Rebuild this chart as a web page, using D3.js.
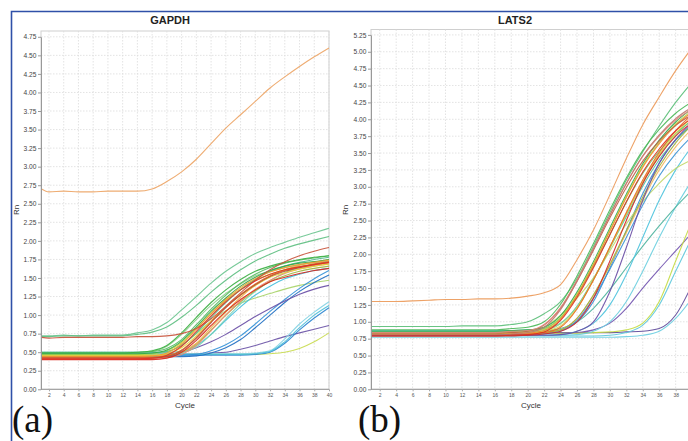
<!DOCTYPE html>
<html><head><meta charset="utf-8">
<script src="https://cdn.jsdelivr.net/npm/d3@7"></script>
<style>
html,body{margin:0;padding:0;background:#fff;}
svg{display:block;}
</style></head>
<body><svg id="c" width="688" height="441"></svg>
<script>
// ---------- data ----------
const cycles = [1,2,4,6,8,10,12,14,16,18,20,22,24,26,28,30,32,34,36,38,40];
const xTicks = [2,4,6,8,10,12,14,16,18,20,22,24,26,28,30,32,34,36,38,40];
const gapdhYTicks = [0,0.25,0.5,0.75,1,1.25,1.5,1.75,2,2.25,2.5,2.75,3,3.25,3.5,3.75,4,4.25,4.5,4.75];
const latsYTicks = [0,0.25,0.5,0.75,1,1.25,1.5,1.75,2,2.25,2.5,2.75,3,3.25,3.5,3.75,4,4.25,4.5,4.75,5,5.25];
const titles = ["GAPDH","LATS2"];
const panelLabels = ["(a)","(b)"];

// GAPDH curves (Rn per cycle)
const gOrange = [2.70,2.66,2.67,2.66,2.66,2.67,2.67,2.67,2.70,2.80,2.93,3.10,3.31,3.52,3.70,3.88,4.06,4.21,4.35,4.48,4.60];
const gGreenA = [0.72,0.72,0.73,0.72,0.73,0.73,0.73,0.76,0.80,0.90,1.07,1.25,1.43,1.59,1.72,1.83,1.91,1.98,2.05,2.11,2.17];
const gGreenB = [0.71,0.71,0.72,0.72,0.72,0.72,0.72,0.74,0.77,0.84,0.97,1.13,1.31,1.47,1.61,1.73,1.82,1.90,1.96,2.01,2.06];
const gRed70  = [0.70,0.69,0.70,0.70,0.70,0.70,0.70,0.71,0.71,0.72,0.75,0.82,0.95,1.12,1.30,1.47,1.61,1.72,1.80,1.86,1.91];
const g01 = [0.49,0.49,0.49,0.49,0.49,0.49,0.49,0.50,0.52,0.59,0.76,0.97,1.17,1.34,1.48,1.59,1.66,1.71,1.75,1.78,1.80];
const g02 = [0.50,0.50,0.50,0.50,0.50,0.50,0.50,0.50,0.51,0.55,0.67,0.87,1.08,1.27,1.43,1.55,1.64,1.70,1.74,1.77,1.80];
const g03 = [0.47,0.47,0.47,0.47,0.47,0.47,0.47,0.47,0.48,0.52,0.63,0.82,1.02,1.20,1.35,1.47,1.55,1.61,1.65,1.68,1.71];
const g04 = [0.46,0.46,0.46,0.46,0.46,0.46,0.46,0.46,0.46,0.48,0.56,0.72,0.92,1.11,1.27,1.40,1.51,1.57,1.62,1.66,1.69];
const g05 = [0.44,0.44,0.44,0.44,0.44,0.44,0.44,0.44,0.45,0.49,0.61,0.81,1.02,1.21,1.37,1.49,1.58,1.64,1.68,1.71,1.74];
const g06 = [0.43,0.43,0.43,0.43,0.43,0.43,0.43,0.43,0.43,0.45,0.53,0.70,0.91,1.11,1.28,1.42,1.53,1.60,1.65,1.69,1.72];
const g07 = [0.41,0.41,0.41,0.41,0.41,0.41,0.41,0.41,0.42,0.46,0.58,0.78,0.99,1.18,1.34,1.46,1.55,1.61,1.65,1.68,1.71];
const g08 = [0.40,0.40,0.40,0.40,0.40,0.40,0.40,0.40,0.40,0.42,0.50,0.66,0.86,1.05,1.21,1.34,1.45,1.51,1.56,1.60,1.63];
const g09 = [0.42,0.42,0.42,0.42,0.42,0.42,0.42,0.42,0.42,0.44,0.52,0.69,0.90,1.10,1.27,1.41,1.52,1.59,1.64,1.68,1.71];
const g10 = [0.45,0.45,0.45,0.45,0.45,0.45,0.45,0.45,0.45,0.46,0.50,0.61,0.80,1.00,1.18,1.33,1.45,1.53,1.59,1.63,1.66];
const g11 = [0.48,0.48,0.48,0.48,0.48,0.48,0.48,0.49,0.51,0.58,0.74,0.94,1.13,1.29,1.42,1.53,1.59,1.64,1.68,1.71,1.72];
const g12 = [0.42,0.42,0.42,0.42,0.42,0.42,0.42,0.42,0.42,0.43,0.47,0.59,0.79,1.00,1.19,1.35,1.47,1.56,1.62,1.66,1.69];
const g13 = [0.49,0.49,0.49,0.49,0.49,0.49,0.49,0.49,0.49,0.51,0.59,0.76,0.97,1.17,1.34,1.48,1.59,1.66,1.71,1.75,1.78];
const g14 = [0.45,0.45,0.45,0.45,0.45,0.45,0.45,0.45,0.45,0.46,0.50,0.62,0.83,1.04,1.24,1.40,1.52,1.61,1.67,1.71,1.75];
const g15 = [0.48,0.48,0.48,0.48,0.48,0.48,0.48,0.48,0.49,0.53,0.65,0.84,1.05,1.23,1.39,1.51,1.60,1.66,1.70,1.72,1.75];
const g16 = [0.47,0.47,0.47,0.47,0.47,0.47,0.47,0.47,0.47,0.47,0.49,0.57,0.74,0.95,1.15,1.32,1.46,1.57,1.64,1.69,1.73];
const g17 = [0.50,0.50,0.50,0.50,0.50,0.50,0.50,0.50,0.50,0.50,0.51,0.59,0.74,0.93,1.11,1.27,1.39,1.49,1.55,1.60,1.63];
const g18 = [0.45,0.45,0.45,0.45,0.45,0.45,0.45,0.45,0.45,0.45,0.46,0.47,0.52,0.60,0.72,0.88,1.05,1.21,1.36,1.49,1.60];
const g19 = [0.44,0.44,0.44,0.44,0.44,0.44,0.44,0.44,0.44,0.44,0.44,0.45,0.49,0.56,0.67,0.83,1.00,1.17,1.32,1.44,1.54];
const g20 = [0.46,0.46,0.46,0.46,0.46,0.46,0.46,0.46,0.46,0.47,0.50,0.56,0.64,0.74,0.86,0.98,1.09,1.19,1.28,1.35,1.40];
const g21 = [0.47,0.47,0.47,0.47,0.47,0.47,0.47,0.47,0.48,0.50,0.60,0.75,0.92,1.06,1.16,1.23,1.29,1.35,1.40,1.44,1.47];
const g22 = [0.48,0.48,0.48,0.48,0.48,0.48,0.48,0.48,0.48,0.48,0.48,0.48,0.48,0.48,0.48,0.49,0.52,0.68,0.88,1.04,1.18];
const g23 = [0.46,0.46,0.46,0.46,0.46,0.46,0.46,0.46,0.46,0.46,0.46,0.46,0.46,0.46,0.46,0.47,0.50,0.62,0.80,0.96,1.10];
const g24 = [0.47,0.47,0.47,0.47,0.47,0.47,0.47,0.47,0.47,0.47,0.47,0.47,0.47,0.47,0.47,0.48,0.51,0.64,0.83,1.00,1.13];
const g25 = [0.48,0.48,0.48,0.48,0.48,0.48,0.48,0.48,0.48,0.48,0.48,0.48,0.49,0.50,0.54,0.59,0.65,0.71,0.76,0.81,0.86];
const g26 = [0.47,0.47,0.47,0.47,0.47,0.47,0.47,0.47,0.47,0.47,0.47,0.47,0.47,0.47,0.47,0.47,0.48,0.50,0.55,0.64,0.76];
const gapdhCurves = [gOrange,gGreenA,gGreenB,g21,g25,g26,g22,g23,g24,g18,g19,g20,g17,g16,g10,g12,g14,g04,g03,g11,g13,g15,g02,g01,g05,g06,g09,gRed70,g08,g07];
const gapdhColors = ["#eda566","#6cc690","#5fbf82","#a8d46a","#6a52a6","#c9db50","#86d3e3","#2d86d0","#4dbfd8","#3592d8","#1f6fc2","#6a4fa6","#45bfdc","#78d1b4","#9db43e","#ee8c6e","#f2b04a","#e5d53c","#b7d438","#8fd08f","#4fba8c","#33a84a","#56bb5e","#3cb043","#f39c32","#e8702a","#b5533a","#c8553d","#d8281c","#e53224"];

// LATS2 curves (Rn per cycle)
const lOrange = [1.30,1.30,1.30,1.31,1.32,1.33,1.33,1.34,1.34,1.35,1.38,1.43,1.55,1.92,2.36,2.88,3.42,3.92,4.33,4.72,5.06];
const lGreenTop = [0.93,0.93,0.93,0.93,0.93,0.93,0.94,0.94,0.94,0.96,1.00,1.12,1.30,1.64,2.12,2.62,3.10,3.52,3.90,4.25,4.55];
const l03 = [0.88,0.88,0.88,0.88,0.88,0.88,0.88,0.88,0.88,0.90,0.92,1.00,1.26,1.68,2.16,2.66,3.13,3.54,3.85,4.09,4.26];
const l04 = [0.84,0.84,0.84,0.84,0.84,0.84,0.84,0.84,0.84,0.86,0.87,0.96,1.21,1.62,2.09,2.58,3.05,3.45,3.75,3.99,4.15];
const l05 = [0.83,0.83,0.83,0.83,0.83,0.83,0.83,0.83,0.83,0.84,0.86,0.95,1.20,1.60,2.06,2.54,2.99,3.38,3.68,3.91,4.07];
const l06 = [0.83,0.83,0.83,0.83,0.83,0.83,0.83,0.83,0.83,0.84,0.85,0.89,1.06,1.41,1.86,2.36,2.86,3.31,3.66,3.93,4.13];
const l07 = [0.86,0.86,0.86,0.86,0.86,0.86,0.86,0.86,0.86,0.87,0.88,0.92,1.09,1.44,1.89,2.39,2.89,3.34,3.69,3.96,4.16];
const l08 = [0.81,0.81,0.81,0.81,0.81,0.81,0.81,0.81,0.81,0.82,0.83,0.87,1.04,1.39,1.84,2.34,2.84,3.29,3.64,3.91,4.11];
const l09 = [0.80,0.80,0.80,0.80,0.80,0.80,0.80,0.80,0.80,0.81,0.82,0.84,0.92,1.19,1.62,2.11,2.62,3.10,3.51,3.83,4.07];
const l10 = [0.82,0.82,0.82,0.82,0.82,0.82,0.82,0.82,0.82,0.83,0.84,0.86,0.94,1.20,1.62,2.10,2.60,3.07,3.48,3.79,4.03];
const l11 = [0.79,0.79,0.79,0.79,0.79,0.79,0.79,0.79,0.79,0.80,0.81,0.85,1.02,1.36,1.80,2.29,2.78,3.22,3.56,3.83,4.02];
const l12 = [0.85,0.85,0.85,0.85,0.85,0.85,0.85,0.85,0.85,0.86,0.87,0.88,0.97,1.22,1.63,2.10,2.59,3.06,3.46,3.76,4.00];
const l13 = [0.82,0.82,0.82,0.82,0.82,0.82,0.82,0.82,0.82,0.82,0.83,0.84,0.88,1.05,1.40,1.85,2.35,2.85,3.30,3.65,3.92];
const l14 = [0.87,0.87,0.87,0.87,0.87,0.87,0.87,0.87,0.87,0.87,0.88,0.90,0.98,1.23,1.63,2.09,2.56,3.01,3.40,3.69,3.92];
const l15 = [0.80,0.80,0.80,0.80,0.80,0.80,0.80,0.80,0.80,0.82,0.84,0.92,1.18,1.60,2.08,2.58,3.05,3.46,3.77,4.01,4.18];
const l16 = [0.82,0.82,0.82,0.82,0.82,0.82,0.82,0.82,0.82,0.82,0.83,0.84,0.88,1.05,1.39,1.83,2.32,2.81,3.25,3.59,3.86];
const l17 = [0.84,0.84,0.84,0.84,0.84,0.84,0.84,0.84,0.84,0.85,0.86,0.90,1.06,1.39,1.82,2.29,2.77,3.20,3.53,3.79,3.98];
const l18 = [0.80,0.80,0.80,0.80,0.80,0.80,0.80,0.80,0.80,0.80,0.81,0.82,0.86,1.02,1.35,1.78,2.25,2.73,3.16,3.49,3.75];
const l19 = [0.79,0.79,0.79,0.79,0.79,0.79,0.79,0.79,0.79,0.79,0.80,0.82,0.86,1.00,1.35,1.90,2.50,3.05,3.45,3.75,3.95];
const l20 = [0.80,0.80,0.80,0.80,0.80,0.80,0.80,0.80,0.80,0.80,0.80,0.80,0.81,0.86,1.00,1.45,2.10,2.80,3.35,3.70,3.95];
const l21 = [0.83,0.83,0.83,0.83,0.83,0.83,0.83,0.83,0.83,0.84,0.85,0.92,1.10,1.35,1.65,2.05,2.45,2.78,3.05,3.27,3.40];
const l22 = [0.85,0.85,0.85,0.85,0.85,0.85,0.85,0.85,0.85,0.85,0.85,0.86,0.90,1.00,1.20,1.48,1.80,2.12,2.42,2.70,2.95];
const l23 = [0.80,0.80,0.80,0.80,0.80,0.80,0.80,0.80,0.80,0.80,0.80,0.80,0.81,0.86,0.98,1.25,1.70,2.25,2.80,3.25,3.60];
const l24 = [0.82,0.82,0.82,0.82,0.82,0.82,0.82,0.82,0.82,0.82,0.82,0.83,0.88,1.00,1.30,1.80,2.35,2.90,3.35,3.70,3.90];
const l25 = [0.80,0.80,0.80,0.80,0.80,0.80,0.80,0.80,0.80,0.80,0.80,0.80,0.80,0.81,0.86,1.00,1.30,1.75,2.25,2.70,3.10];
const l26 = [0.79,0.79,0.79,0.79,0.79,0.79,0.79,0.79,0.79,0.79,0.79,0.79,0.79,0.79,0.79,0.80,0.84,0.95,1.25,1.75,2.25];
const l27 = [0.83,0.83,0.83,0.83,0.83,0.83,0.83,0.83,0.83,0.83,0.83,0.83,0.83,0.83,0.84,0.85,0.88,0.98,1.30,1.90,2.50];
const l28 = [0.83,0.83,0.83,0.83,0.83,0.83,0.83,0.83,0.83,0.83,0.83,0.83,0.83,0.84,0.88,0.98,1.20,1.50,1.78,2.05,2.32];
const l29 = [0.84,0.84,0.84,0.84,0.84,0.84,0.84,0.84,0.84,0.84,0.84,0.84,0.84,0.84,0.84,0.84,0.85,0.86,0.90,1.10,1.55];
const l30 = [0.77,0.77,0.77,0.77,0.77,0.77,0.77,0.77,0.77,0.77,0.77,0.77,0.77,0.77,0.77,0.77,0.78,0.80,0.86,1.05,1.35];
const latsCurves = [l30,l29,l28,l27,l26,l25,l22,l23,l24,l21,lOrange,lGreenTop,l03,l14,l12,l16,l13,l18,l17,l07,l06,l10,l09,l08,l05,l04,l15,l20,l19,l11];
const latsColors = ["#6fcfe2","#5e4a9a","#7355b0","#c6dc48","#5ec8dc","#6ccfe0","#4fb4a0","#4ec3dd","#3a8fd6","#c2d86a","#eb9a5a","#5cbf7a","#4db85a","#58c0a0","#8fd48f","#f5b862","#a0b040","#3d94d4","#6cc36c","#33a853","#b8d44a","#e0d040","#e86a24","#f08c2e","#c06048","#e0857a","#c07a70","#6b4fa6","#d42a2a","#e0301e"];

// ---------- drawing ----------
const svg = d3.select("#c");
const font = "'Liberation Sans', Arial, sans-serif";

// outer blue frame
svg.append("path").attr("d","M11.5,441 V11.5 H688").attr("fill","none")
   .attr("stroke","#2f50a8").attr("stroke-width",1.6);

function panel(o){
  const x = d3.scaleLinear().domain([1,40]).range([o.x0, o.x1]);
  const y = d3.scaleLinear().domain([0,o.yMax]).range([389.3, o.yTopPx]);
  const g = svg.append("g");
  g.append("rect").attr("x",o.left).attr("y",o.top).attr("width",o.right-o.left).attr("height",389.3-o.top)
   .attr("fill","#fff").attr("stroke","#cfcfcf").attr("stroke-width",1);
  g.append("g").selectAll("line").data(o.yTicks.filter(d=>d>0)).join("line")
   .attr("x1",o.left).attr("x2",o.right).attr("y1",d=>y(d)).attr("y2",d=>y(d))
   .attr("stroke","#dcdcdc").attr("stroke-width",0.8).attr("stroke-dasharray","1.5,1.5");
  g.append("g").selectAll("line").data(xTicks).join("line")
   .attr("x1",d=>x(d)).attr("x2",d=>x(d)).attr("y1",o.top).attr("y2",389.3)
   .attr("stroke","#dcdcdc").attr("stroke-width",0.8).attr("stroke-dasharray","1.5,1.5");
  const line = d3.line().x((d,i)=>x(cycles[i])).y(d=>y(d)).curve(d3.curveMonotoneX);
  g.append("g").selectAll("path").data(o.curves).join("path")
   .attr("d",line).attr("fill","none").attr("stroke",(d,i)=>o.colors[i])
   .attr("stroke-width",1.1).attr("stroke-opacity",0.92);
  const ya = g.append("g").attr("transform",`translate(${o.left},0)`)
   .call(d3.axisLeft(y).tickValues(o.yTicks).tickFormat(d3.format(".2f")).tickSize(3).tickSizeOuter(0));
  ya.select(".domain").attr("stroke","#999");
  ya.selectAll(".tick line").attr("stroke","#999");
  ya.selectAll(".tick text").attr("font-family",font).attr("font-size",6.6).attr("fill","#444").attr("dx","0.2em");
  const labelTicks = xTicks.filter(d => x(d) < 684);
  const xa = g.append("g").attr("transform","translate(0,389.3)")
   .call(d3.axisBottom(x).tickValues(labelTicks).tickFormat(d3.format("d")).tickSize(2).tickSizeOuter(0));
  xa.select(".domain").attr("stroke","#999").attr("d",`M${o.left},0H${o.right}`);
  xa.selectAll(".tick line").attr("stroke","#aaa");
  xa.selectAll(".tick text").attr("font-family",font).attr("font-size",5).attr("fill","#555").attr("dy","0.6em");
  svg.append("text").attr("x",o.titleX).attr("y",24).attr("text-anchor","middle")
   .attr("font-family",font).attr("font-weight","bold").attr("font-size",11).attr("fill","#222").text(o.title);
  svg.append("text").attr("transform",`translate(${o.rnX},210) rotate(-90)`).attr("text-anchor","middle")
   .attr("font-family",font).attr("font-size",8).attr("fill","#333").text("Rn");
  svg.append("text").attr("x",o.cycleX).attr("y",408).attr("text-anchor","middle")
   .attr("font-family",font).attr("font-size",8).attr("fill","#333").text("Cycle");
  svg.append("text").attr("x",o.labX).attr("y",432).attr("font-family","'Liberation Serif','Times New Roman',serif")
   .attr("font-size",37).attr("fill","#111").text(o.panelLabel);
}

panel({x0:41.6,x1:329,left:41,right:329,top:31,yMax:4.75,yTopPx:36.8,yTicks:gapdhYTicks,
  curves:gapdhCurves,colors:gapdhColors,title:titles[0],titleX:170,rnX:19,cycleX:185,labX:12,panelLabel:panelLabels[0]});
panel({x0:371.5,x1:692.1,left:371,right:692,top:29.5,yMax:5.25,yTopPx:34.9,yTicks:latsYTicks,
  curves:latsCurves,colors:latsColors,title:titles[1],titleX:515,rnX:348,cycleX:531,labX:358,panelLabel:panelLabels[1]});
</script>
</body></html>
